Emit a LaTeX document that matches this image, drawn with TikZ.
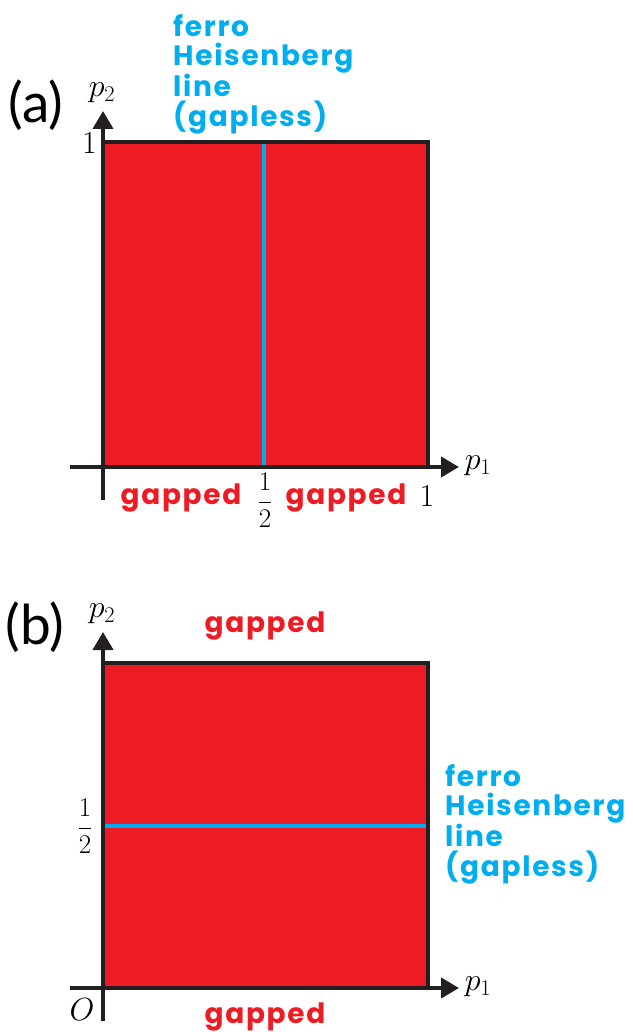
\RequirePackage{fix-cm}
\documentclass[tikz,border=0pt]{standalone}
\usepackage{fontspec}
\setmainfont{Poppins}[LetterSpace=6]
\newfontfamily\panelfont{Lato}
\usetikzlibrary{arrows.meta, positioning}
\definecolor{gapred}{HTML}{ED1C24}
\definecolor{ferroblue}{HTML}{00AEEF}
\definecolor{inkblack}{HTML}{231F20}
\tikzset{
  axisline/.style={line width=4pt, draw=inkblack, -{Triangle[length=18pt, width=20pt]}},
  frameline/.style={line width=4pt, draw=inkblack, line join=miter},
  ferroline/.style={line width=3.5pt, draw=ferroblue},
  mathlbl/.style={inner sep=0pt, font=\fontsize{32}{38}\selectfont},
  halflbl/.style={inner sep=0pt, font=\fontsize{27}{32}\selectfont},
  gaplbl/.style={inner sep=0pt, text=gapred, font=\fontsize{28}{30}\selectfont\bfseries},
  ferrolbl/.style={inner sep=0pt, text=ferroblue, align=left, font=\fontsize{28}{29.5}\selectfont\bfseries},
  panellbl/.style={inner sep=0pt, font=\fontsize{55}{60}\selectfont\panelfont}
}
\begin{document}
\begin{tikzpicture}[x=1pt, y=-1pt]
    \useasboundingbox (0,0) rectangle (632,1032);
    \foreach \n/\dy in {a/0, b/521} {
        \coordinate (\n-tl) at (103,142+\dy);
        \coordinate (\n-tr) at (428,142+\dy);
        \coordinate (\n-br) at (428,467+\dy);
        \coordinate (\n-o) at (103,467+\dy);
        \fill[gapred] (\n-o) rectangle (\n-tr);
        \coordinate (\n-ybot) at (103,500+\dy);
        \coordinate (\n-ytop) at (103,111+\dy);
        \coordinate (\n-xleft) at (70,467+\dy);
        \coordinate (\n-xright) at (459,467+\dy);
    }
    \coordinate (a-mid-bot) at (264,467);
    \coordinate (a-mid-top) at (264,142);
    \coordinate (b-mid-left) at (103,826);
    \coordinate (b-mid-right) at (428,826);
    \draw[ferroline] (a-mid-bot) -- (a-mid-top);
    \draw[ferroline] (b-mid-left) -- (b-mid-right);
    \foreach \n in {a, b} {
        \draw[frameline] (\n-tl) -- (\n-tr) -- (\n-br);
        \draw[axisline] (\n-ybot) -- (\n-ytop);
        \draw[axisline] (\n-xleft) -- (\n-xright);
    }

    \node[panellbl] (a-name) at (36,105) {(a)};
    \node[mathlbl] (a-p2) at (102,93) {$p_2$};
    \node[mathlbl] (a-p1) at (478,466) {$p_1$};
    \node[mathlbl, anchor=east] (a-one-y) at (97,143) {$1$};
    \node[mathlbl] (a-one-x) at (427,496) {$1$};
    \node[halflbl] (a-half) at (265,500) {$\displaystyle\frac{1}{2}$};
    \node[gaplbl] (a-gap-left) at (181,498) {gapped};
    \node[gaplbl] (a-gap-right) at (346,498) {gapped};
    \node[ferrolbl, anchor=north west] (a-ferro) at (173,14) {ferro\\Heisenberg\\line\\(gapless)};

    \node[panellbl] (b-name) at (35,627) {(b)};
    \node[mathlbl] (b-p2) at (102,614) {$p_2$};
    \node[mathlbl] (b-p1) at (478,987) {$p_1$};
    \node[halflbl] (b-half) at (85,826) {$\displaystyle\frac{1}{2}$};
    \node[mathlbl] (b-origin) at (82,1010) {$O$};
    \node[gaplbl] (b-gap-top) at (265,626) {gapped};
    \node[gaplbl] (b-gap-bot) at (265,1017) {gapped};
    \node[ferrolbl, anchor=north west] (b-ferro) at (445,764) {ferro\\Heisenberg\\line\\(gapless)};
\end{tikzpicture}
\end{document}
